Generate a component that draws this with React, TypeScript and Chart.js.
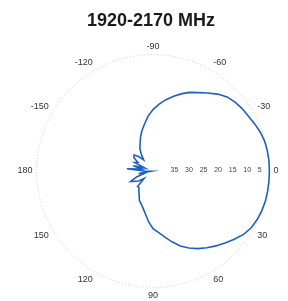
import React, { useEffect, useRef } from "react";
import { Chart, registerables } from "chart.js";

Chart.register(...registerables);

const TITLE = "1920-2170 MHz";

// angles (deg, clockwise from 0 at the right), 5 deg step
const ANGLES: number[] = Array.from({ length: 72 }, (_, i) => i * 5);
const ANGLE_LABELS: string[] = ANGLES.map((a) => (a <= 180 ? String(a) : String(a - 360)));
const SHOWN_ANGLES: string[] = ["0", "30", "60", "90", "120", "150", "180", "-150", "-120", "-90", "-60", "-30"];

// attenuation (dB below peak) at each angle above
const ATTENUATION: number[] = [
  0, 0, 0, 0, 0.2, 0.5, 1.0, 2.0, 3.5, 5.0, 6.4, 7.8,
  9.2, 10.8, 12.6, 14.8, 17.0, 18.8, 20.2, 22.5, 25.0, 26.8, 28.0, 28.9,
  30.5, 31.5, 32.5, 32.5, 36.0, 34.0, 33.0, 31.5, 34.0, 37.0, 35.0, 39.5,
  37.0, 31.0, 36.0, 33.0, 37.0, 33.0, 34.0, 32.0, 31.5, 33.0, 35.0, 33.0,
  31.0, 29.5, 27.5, 25.5, 23.5, 21.0, 18.9, 17.0, 15.2, 13.5, 11.8, 10.2,
  8.9, 7.3, 5.5, 4.0, 3.2, 2.6, 2.2, 1.5, 0.8, 0.3, 0.1, 0,
];

const RANGE_DB = 40;
const RADIAL_TICKS: number[] = [35, 30, 25, 20, 15, 10, 5];

const FONT = "'Liberation Sans', Arial, sans-serif";

const radialTicksPlugin = {
  id: "radialTicks",
  afterDatasetsDraw(chart: any) {
    const s = chart.scales.r;
    const ctx = chart.ctx;
    ctx.save();
    ctx.font = `7px ${FONT}`;
    ctx.fillStyle = "#444";
    ctx.textAlign = "left";
    ctx.textBaseline = "middle";
    RADIAL_TICKS.forEach((v) => {
      const d = s.getDistanceFromCenterForValue(RANGE_DB - v);
      ctx.fillText(String(v), s.xCenter + d + 3, s.yCenter - 1);
    });
    ctx.restore();
  },
};

export default function App() {
  const ref = useRef<HTMLCanvasElement | null>(null);
  useEffect(() => {
    if (!ref.current) return;
    const chart = new Chart(ref.current, {
      type: "radar",
      data: {
        labels: ANGLE_LABELS,
        datasets: [
          {
            data: ATTENUATION.map((a) => RANGE_DB - a),
            borderColor: "#1f5fc4",
            borderWidth: 1.6,
            pointRadius: 0,
            fill: false,
            tension: 0,
          },
        ],
      },
      options: {
        animation: false,
        responsive: false,
        layout: { padding: { top: 3, left: 10, right: -4, bottom: -4 } },
        plugins: {
          legend: { display: false },
          tooltip: { enabled: false },
          title: {
            display: true,
            text: TITLE,
            color: "#1a1a1a",
            font: { family: FONT, size: 18, weight: "bold" },
            padding: { top: 7, bottom: 10 },
          },
        },
        scales: {
          r: {
            min: 0,
            max: RANGE_DB,
            startAngle: 90,
            angleLines: { display: false },
            grid: {
              circular: true,
              color: (c: any) => (c.tick && c.tick.value === RANGE_DB ? "#c8c8c8" : "transparent"),
              lineWidth: 1,
            },
            border: { dash: [1, 2] },
            ticks: { display: false, stepSize: 5 },
            pointLabels: {
              display: true,
              padding: 4,
              color: "#333",
              font: { family: FONT, size: 9, lineHeight: 1.0 },
              callback: (label: string) => (SHOWN_ANGLES.includes(label) ? label : ""),
            },
          },
        },
      },
      plugins: [radialTicksPlugin],
    });
    return () => chart.destroy();
  }, []);
  return (
    <div style={{ position: "fixed", left: 0, top: 0, width: 288, height: 301, background: "#fff" }}>
      <canvas ref={ref} width={288} height={301} />
    </div>
  );
}
